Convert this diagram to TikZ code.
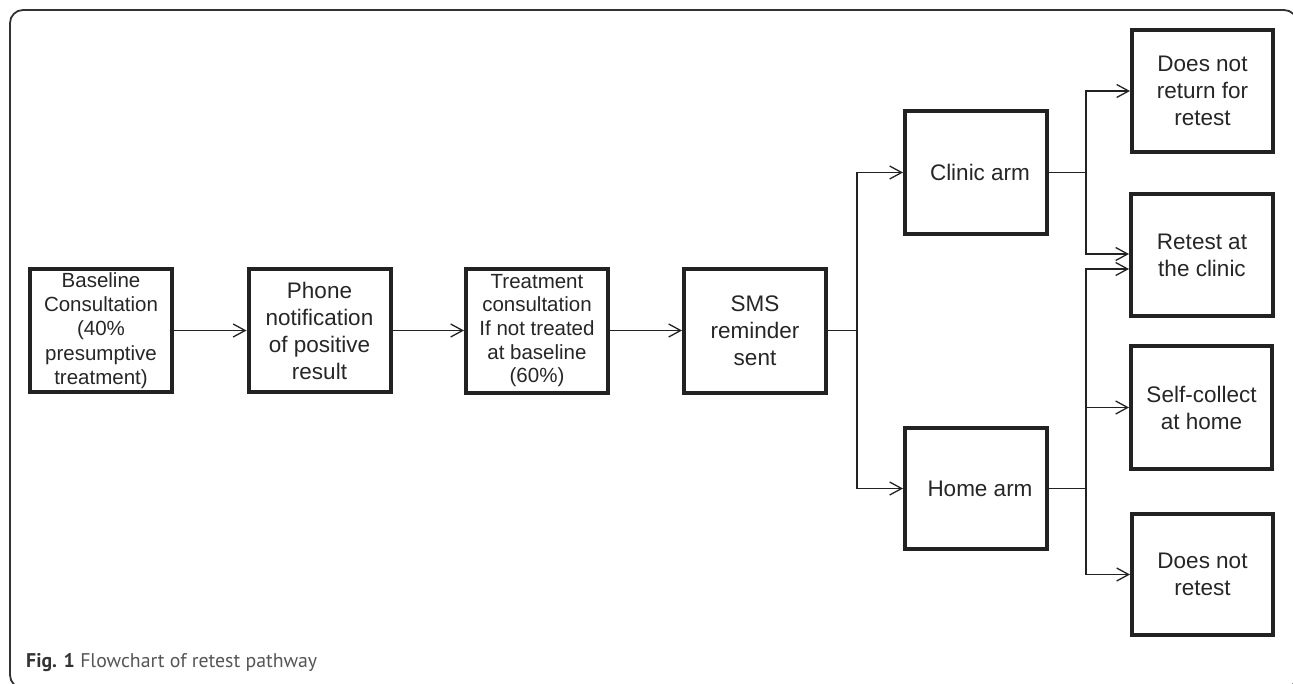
\documentclass[tikz,border=0pt]{standalone}
\usepackage{fontspec}
\setmainfont{Liberation Sans}
\newfontfamily\capfont{PT Sans}
\usetikzlibrary{arrows.meta}
\definecolor{boxc}{HTML}{222222}
\definecolor{framec}{HTML}{333333}
\definecolor{capdark}{HTML}{333333}
\definecolor{capgray}{HTML}{555555}
\begin{document}
\begin{tikzpicture}[x=1pt,y=-1pt,
  box/.style={draw=boxc, line width=4pt, minimum width=142pt, minimum height=122pt,
    inner sep=0pt, align=center, text=black!85, font=\fontsize{22.5}{27}\selectfont},
  smallbox/.style={box, font=\fontsize{20.5}{24.2}\selectfont},
  conn/.style={draw=boxc, line width=1.3pt},
  arr/.style={conn, -{Straight Barb[length=12pt,width=13pt,line width=1.3pt]}}]
\useasboundingbox (0,0) rectangle (1293,683);
\begin{scope}
\clip (0,0) rectangle (1293,683);
\draw[framec, line width=1.8pt, rounded corners=13pt] (10,10) rectangle (1297,688);
\end{scope}

\node[smallbox, minimum height=123pt] (base) at (101,330.5) {Baseline\\Consultation\\(40\%\\presumptive\\treatment)};
\node[box, minimum height=123pt] (phone) at (319.5,330.5) {Phone\\notification\\of positive\\result};
\node[smallbox, minimum height=124pt, font=\fontsize{20.5}{23.6}\selectfont] (treat) at (537,330.5) {Treatment\\consultation\\If not treated\\at baseline\\(60\%)};
\node[box, minimum height=124pt] (sms) at (755,330.5) {SMS\\reminder\\sent};
\node[box, minimum height=123pt] (clinic) at (976,172.5) {\hspace*{8pt}Clinic arm};
\node[box, minimum height=121pt] (home) at (976,488.5) {\hspace*{8pt}Home arm};
\node[box, minimum width=141pt] (dnr) at (1202.5,91) {Does not\\return for\\retest};
\node[box] (retest) at (1202,255) {Retest at\\the clinic};
\node[box, minimum width=141pt, minimum height=123pt] (self) at (1201.5,407.5) {Self-collect\\at home};
\node[box, minimum width=141pt, minimum height=121pt] (dnrt) at (1202.5,574.5) {Does not\\retest};

\coordinate (j1) at (857,330.5);
\coordinate (j2) at (1086,172.5);
\coordinate (j3) at (1086,488.5);

\draw[arr] (base.east) -- (phone.west);
\draw[arr] (phone.east) -- (treat.west);
\draw[arr] (treat.east) -- (sms.west);
\draw[conn] (sms.east) -- (j1);
\draw[arr] (j1) |- (clinic.west);
\draw[arr] (j1) |- (home.west);
\draw[conn] (clinic.east) -- (j2);
\draw[arr] (j2) |- (dnr.west);
\draw[arr] (j2) |- ([yshift=1pt]retest.west);
\draw[conn] (home.east) -- (j3);
\draw[arr] (j3) |- ([yshift=-14pt]retest.west);
\draw[arr] (j3) |- (self.west);
\draw[arr] (j3) |- (dnrt.west);

\node[anchor=base west, inner sep=0pt, font=\capfont\fontsize{19.8}{22}\selectfont] (cap) at (26,667)
  {\textcolor{capdark}{\textbf{Fig. 1}} \textcolor{capgray}{Flowchart of retest pathway}};
\end{tikzpicture}
\end{document}
